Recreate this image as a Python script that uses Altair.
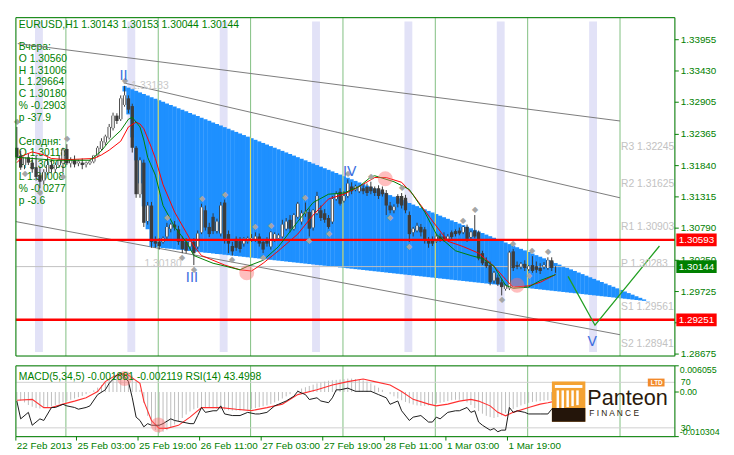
import math
import altair as alt
import pandas as pd

W, H, HS = 670, 344, 72
XDOM = [-0.25, 171.0]
YDOM = [1.28643, 1.34326]
MDOM = [-0.010304, 0.006055]
RDOM = [22.3, 84.5]
GREEN = "#008000"
FONT = "Liberation Sans"

# ---------------- price data (H1 bars) ----------------
opens = [1.3214,1.3201,1.3185,1.3198,1.3189,1.3181,1.3168,1.3159,1.3173,1.3185,
 1.3178,1.3185,1.3188,1.3212,1.3188,1.3193,1.3188,1.3189,1.3186,1.3188,
 1.3191,1.3201,1.3212,1.3223,1.3231,1.3247,1.3268,1.3262,1.3286,1.3297,
 1.3284,1.3214,1.3136,1.3189,1.3091,1.3117,1.3057,1.3056,1.3056,1.3065,
 1.3078,1.3085,1.3077,1.3059,1.3056,1.3048,1.3056,1.3048,1.3072,1.3109,
 1.3081,1.3098,1.3074,1.3070,1.3122,1.3069,1.3049,1.3061,1.3057,1.3053,
 1.3057,1.3059,1.3059,1.3065,1.3056,1.3059,1.3048,1.3059,1.3062,1.3065,
 1.3078,1.3093,1.3078,1.3098,1.3090,1.3104,1.3106,1.3080,1.3104,1.3109,
 1.3104,1.3096,1.3090,1.3128,1.3140,1.3125,1.3133,1.3149,1.3144,1.3141,
 1.3146,1.3148,1.3149,1.3146,1.3146,1.3144,1.3138,1.3117,1.3109,1.3133,
 1.3133,1.3130,1.3101,1.3072,1.3075,1.3081,1.3077,1.3059,1.3059,1.3057,
 1.3065,1.3065,1.3061,1.3072,1.3074,1.3075,1.3072,1.3081,1.3064,1.3075,
 1.3072,1.3037,1.3023,1.3017,1.2991,1.2996,1.2988,1.2977,1.2978,1.3040,
 1.3017,1.3014,1.3019,1.3010,1.3017,1.3015,1.3012,1.3014,1.3012,1.3025,
 1.3014]
highs = [1.3249,1.3209,1.3194,1.3204,1.3198,1.3201,1.3181,1.3178,1.3198,1.3194,
 1.3189,1.3201,1.3214,1.3220,1.3198,1.3201,1.3194,1.3196,1.3191,1.3194,
 1.3202,1.3217,1.3230,1.3236,1.3254,1.3273,1.3272,1.3302,1.3318,1.3302,
 1.3288,1.3217,1.3198,1.3194,1.3123,1.3123,1.3065,1.3062,1.3065,1.3088,
 1.3088,1.3091,1.3083,1.3065,1.3062,1.3059,1.3062,1.3075,1.3120,1.3117,
 1.3088,1.3104,1.3095,1.3123,1.3127,1.3075,1.3056,1.3065,1.3064,1.3064,
 1.3065,1.3069,1.3072,1.3070,1.3061,1.3064,1.3074,1.3072,1.3070,1.3093,
 1.3096,1.3101,1.3104,1.3123,1.3109,1.3122,1.3112,1.3111,1.3140,1.3117,
 1.3111,1.3101,1.3133,1.3141,1.3146,1.3141,1.3161,1.3156,1.3152,1.3151,
 1.3151,1.3154,1.3157,1.3149,1.3151,1.3149,1.3143,1.3123,1.3119,1.3136,
 1.3138,1.3135,1.3107,1.3081,1.3088,1.3086,1.3081,1.3064,1.3065,1.3069,
 1.3070,1.3072,1.3069,1.3075,1.3077,1.3080,1.3083,1.3085,1.3075,1.3101,
 1.3075,1.3041,1.3030,1.3023,1.3007,1.3001,1.2993,1.2985,1.3041,1.3044,
 1.3023,1.3022,1.3025,1.3017,1.3032,1.3023,1.3020,1.3022,1.3030,1.3030,
 1.3015]
lows = [1.3194,1.3177,1.3178,1.3185,1.3172,1.3159,1.3146,1.3152,1.3168,1.3172,
 1.3172,1.3181,1.3173,1.3185,1.3181,1.3181,1.3183,1.3178,1.3181,1.3185,
 1.3188,1.3198,1.3209,1.3218,1.3228,1.3243,1.3254,1.3259,1.3283,1.3272,
 1.3206,1.3130,1.3130,1.3081,1.3085,1.3046,1.3046,1.3043,1.3053,1.3059,
 1.3072,1.3075,1.3051,1.3037,1.3037,1.3043,1.3017,1.3044,1.3069,1.3075,
 1.3064,1.3069,1.3070,1.3065,1.3053,1.3037,1.3033,1.3041,1.3038,1.3048,
 1.3053,1.3056,1.3056,1.3048,1.3037,1.3048,1.3043,1.3056,1.3059,1.3062,
 1.3075,1.3072,1.3075,1.3095,1.3085,1.3098,1.3065,1.3075,1.3101,1.3091,
 1.3088,1.3078,1.3086,1.3125,1.3117,1.3122,1.3130,1.3136,1.3141,1.3138,
 1.3136,1.3133,1.3136,1.3133,1.3128,1.3132,1.3101,1.3104,1.3104,1.3114,
 1.3112,1.3104,1.3056,1.3065,1.3072,1.3065,1.3053,1.3046,1.3049,1.3054,
 1.3056,1.3056,1.3057,1.3061,1.3065,1.3067,1.3069,1.3056,1.3061,1.3062,
 1.3025,1.3017,1.3012,1.2983,1.2986,1.2982,1.2966,1.2974,1.2975,1.3007,
 1.3010,1.3010,1.3007,1.3007,1.3004,1.3004,1.3002,1.3010,1.3009,1.3007,
 1.3004]
closes = [1.3198,1.3181,1.3198,1.3189,1.3178,1.3165,1.3157,1.3173,1.3185,1.3178,
 1.3185,1.3194,1.3210,1.3188,1.3194,1.3186,1.3191,1.3185,1.3189,1.3191,
 1.3201,1.3214,1.3225,1.3233,1.3249,1.3268,1.3259,1.3297,1.3302,1.3278,
 1.3214,1.3136,1.3193,1.3088,1.3117,1.3056,1.3053,1.3049,1.3062,1.3081,
 1.3085,1.3080,1.3056,1.3044,1.3041,1.3056,1.3037,1.3070,1.3114,1.3080,
 1.3069,1.3074,1.3090,1.3117,1.3061,1.3053,1.3040,1.3046,1.3044,1.3061,
 1.3062,1.3062,1.3065,1.3053,1.3043,1.3053,1.3072,1.3069,1.3067,1.3085,
 1.3090,1.3078,1.3101,1.3120,1.3104,1.3107,1.3078,1.3109,1.3133,1.3096,
 1.3093,1.3081,1.3128,1.3136,1.3120,1.3133,1.3154,1.3141,1.3149,1.3149,
 1.3141,1.3138,1.3141,1.3138,1.3133,1.3136,1.3117,1.3109,1.3115,1.3120,
 1.3117,1.3109,1.3069,1.3078,1.3083,1.3072,1.3059,1.3053,1.3053,1.3065,
 1.3059,1.3061,1.3065,1.3064,1.3069,1.3070,1.3081,1.3061,1.3072,1.3065,
 1.3028,1.3020,1.3015,1.2988,1.3004,1.2985,1.2980,1.2983,1.3038,1.3012,
 1.3014,1.3019,1.3012,1.3015,1.3007,1.3009,1.3007,1.3017,1.3025,1.3012,
 1.3014]

red_ma_bars = [0,2,4,7,9,13,20,22,24,27,29,31,32,33,35,36,38,41,44,46,48,54,58,61,64,68,73,77,81,85,
               89,93,96,100,103,108,112,116,120,124,127,129,133,136,140]
red_ma = [1.3189,1.3202,1.3207,1.3202,1.3196,1.3194,1.3196,1.3202,1.3210,1.3225,
          1.3249,1.3257,1.3254,1.3246,1.3214,1.3196,1.3152,1.3106,1.3072,1.3049,
          1.3033,1.3017,1.3009,1.3007,1.3020,1.3041,1.3069,1.3101,1.3128,1.3136,
          1.3149,1.3164,1.3164,1.3156,1.3135,1.3091,1.3057,1.3048,1.3037,1.3015,
          1.2993,1.2980,1.2982,1.2988,1.3001]
green_ma_bars = [0,10,19,20,22,24,27,29,30,32,33,34,36,38,41,44,46,51,53,58,60,64,68,73,77,81,85,89,92,93,
                 98,102,106,109,114,118,121,124,127,129,133,136,140]
green_ma = [1.3198,1.3193,1.3193,1.3198,1.3209,1.3225,1.3243,1.3262,1.3265,1.3249,
            1.3227,1.3198,1.3168,1.3117,1.3081,1.3056,1.3033,1.3020,1.3017,1.3009,
            1.3015,1.3025,1.3048,1.3090,1.3122,1.3136,1.3138,1.3149,1.3165,1.3167,
            1.3157,1.3144,1.3106,1.3069,1.3041,1.3033,1.3028,1.3015,1.2983,1.2978,
            1.2980,1.2991,1.3001]

fractal_up = [0,13,28,39,48,54,62,66,75,86,92,100,116,119,129,134,138]
fractal_down = [2,6,12,43,46,56,64,76,81,97,102,126,133]

# ---------------- indicator data ----------------
macd = [-0.0018,-0.0020,-0.0024,-0.0030,-0.0034,-0.0037,-0.0038,-0.0037,-0.0035,-0.0033,
 -0.0030,-0.0027,-0.0024,-0.0021,-0.0018,-0.0015,-0.0012,-0.0009,-0.0005,-0.0001,
 0.0004,0.0010,0.0016,0.0022,0.0028,0.0034,0.0040,0.0044,0.0046,0.0044,
 0.0038,0.0025,0.0005,-0.0025,-0.0055,-0.0075,-0.0088,-0.0095,-0.0092,-0.0088,
 -0.0082,-0.0075,-0.0068,-0.0060,-0.0052,-0.0045,-0.0040,-0.0037,-0.0036,-0.0036,
 -0.0037,-0.0038,-0.0039,-0.0040,-0.0041,-0.0042,-0.0043,-0.0043,-0.0043,-0.0042,
 -0.0041,-0.0039,-0.0037,-0.0035,-0.0033,-0.0031,-0.0028,-0.0024,-0.0020,-0.0015,
 -0.0010,-0.0005,0.0000,0.0004,0.0008,0.0011,0.0014,0.0017,0.0020,0.0022,
 0.0024,0.0026,0.0027,0.0028,0.0029,0.0030,0.0031,0.0031,0.0030,0.0029,
 0.0027,0.0024,0.0020,0.0015,0.0010,0.0005,0.0000,-0.0005,-0.0010,-0.0015,
 -0.0019,-0.0023,-0.0026,-0.0029,-0.0031,-0.0032,-0.0032,-0.0031,-0.0029,-0.0027,
 -0.0025,-0.0023,-0.0021,-0.0019,-0.0018,-0.0018,-0.0020,-0.0024,-0.0030,-0.0037,
 -0.0044,-0.0050,-0.0055,-0.0058,-0.0060,-0.0058,-0.0054,-0.0049,-0.0044,-0.0039,
 -0.0035,-0.0031,-0.0028,-0.0025,-0.0023,-0.0022,-0.0021,-0.0020,-0.0019,-0.0019,
 -0.0019]
signal_bars = [0,4,7,9,12,15,18,21,23,25,27,29,32,33,35,37,39,42,45,48,53,57,61,65,69,73,78,82,86,90,
               93,97,100,103,107,109,112,115,118,120,123,125,127,129,133,136,138,140]
signal = [-0.0019,-0.0017,-0.0036,-0.0036,-0.0028,-0.0021,-0.0013,0.0001,0.0024,0.0035,
          0.0043,0.0039,0.0020,-0.0021,-0.0066,-0.0084,-0.0084,-0.0077,-0.0058,-0.0036,
          -0.0036,-0.0040,-0.0043,-0.0036,-0.0028,-0.0006,0.0005,0.0016,0.0024,0.0030,
          0.0024,0.0016,0.0001,-0.0017,-0.0028,-0.0032,-0.0028,-0.0021,-0.0017,-0.0021,
          -0.0032,-0.0047,-0.0055,-0.0047,-0.0036,-0.0028,-0.0025,-0.0021]
rsi_bars = [0,1,3,4,6,7,9,10,12,13,15,16,18,19,21,23,24,26,27,28,29,30,31,32,33,34,35,37,38,40,
            41,43,45,46,47,48,49,51,52,53,54,56,58,60,62,63,65,67,68,70,72,73,75,76,78,79,81,82,83,84,
            86,88,90,92,94,96,97,99,100,102,103,105,107,108,109,110,112,114,115,117,118,119,120,121,
            123,124,125,126,127,128,129,130,132,133,136,138,139,140]
rsi = [53.6,37.9,43.6,32.3,37.9,36.5,47.9,47.9,50.7,49.3,47.9,46.4,47.9,49.3,59.2,63.4,69.1,76.2,77.7,74.8,
       70.6,56.4,39.4,36.5,30.9,33.7,32.3,32.3,33.7,37.9,36.5,35.1,33.7,33.7,40.8,47.9,43.6,45.0,45.0,49.3,
       42.2,40.8,40.8,43.6,42.2,42.2,43.6,49.3,50.7,53.6,57.8,62.1,59.2,54.9,56.4,53.6,52.1,56.4,63.4,63.4,
       64.9,62.1,62.1,62.1,59.2,56.4,50.7,53.6,45.0,36.5,39.4,40.8,35.1,35.1,39.4,37.9,43.6,45.0,45.0,47.9,
       43.6,45.0,35.1,32.3,28.0,29.4,26.6,28.0,28.0,47.9,43.6,45.0,43.6,42.2,42.2,42.2,46.4,43.5]
rsi_levels = [70, 30]

# ---------------- drawing objects ----------------
band_centers = [5.75, 29.75, 53.75, 77.75, 101.75, 125.75, 149.75]
grid_bars = [12.75, 36.75, 60.75, 84.75, 108.75, 132.75, 156.75]
tri_bars = [27.75, 34.75, 164.25]
tri_prices = [1.33183, 1.3048, 1.2956]
trend_ids = ["a", "a", "b", "b", "c", "c"]
trend_bars = [0.25, 156.75, 27.75, 156.75, -0.25, 156.75]
trend_prices = [1.3389, 1.3259, 1.3323, 1.3130, 1.3090, 1.2900]
red_levels = [1.30593, 1.29251]
bid_price = 1.30144
pivot_names = ["R3", "R2", "R1", "P", "S1", "S2"]
pivot_values = [1.32245, 1.31625, 1.30903, 1.30283, 1.29561, 1.28941]
wave_labels = ["II", "III", "IV", "V"]
wave_bars = [27.75, 45.5, 86.5, 149.5]
wave_prices = [1.3334, 1.2995, 1.3173, 1.2887]
proj_bars = [143.25, 150.25, 167.0]
proj_prices = [1.2998, 1.2916, 1.3049]
circle_bars = [59.75, 95.75, 130.0]
circle_prices = [1.3004, 1.3162, 1.2983]
sub_circle_bars = [28.0, 36.75]
sub_circle_rsi = [73.4, 32.6]
box_texts = ["1.33183", "1.30180"]
box_bars = [34.6, 38.0]
box_prices = [1.33183, 1.30180]

y_ticks = [1.33955, 1.33430, 1.32905, 1.32365, 1.31840, 1.31315, 1.30790, 1.30250, 1.29725, 1.29200, 1.28675]
time_tick_bars = [-0.25, 15.5, 31.5, 47.5, 63.5, 79.5, 95.5, 111.5, 127.5]
time_tick_labels = ["22 Feb 2013", "25 Feb 03:00", "25 Feb 19:00", "26 Feb 11:00", "27 Feb 03:00",
                    "27 Feb 19:00", "28 Feb 11:00", "1 Mar 03:00", "1 Mar 19:00"]
macd_ticks = [0.006055, 0.0, -0.010304]
macd_tick_labels = ["0.006055", "0.00", "-0.010304"]
tag_prices = [1.30593, 1.29251, 1.30144]
tag_texts = ["1.30593", "1.29251", "1.30144"]
tag_colors = ["#ff0000", "#ff0000", "#008000"]

header = "EURUSD,H1  1.30143 1.30153 1.30044 1.30144"
info_lines = ["Вчера:", "O 1.30560", "H 1.31006", "L 1.29664", "C 1.30180", "% -0.2903", "p -37.9",
              "Сегодня:", "O 1.30118", "H 1.30203", "L 1.30008", "% -0.0277", "p -3.6"]
info_rows = [0, 1, 2, 3, 4, 5, 6, 8, 9, 10, 11, 12, 13]
sub_title = "MACD(5,34,5) -0.001881 -0.002119  RSI(14) 43.4998"

# ---------------- helpers ----------------
xs = alt.Scale(domain=XDOM, nice=False)
ys = alt.Scale(domain=YDOM, nice=False)
ms = alt.Scale(domain=MDOM, nice=False)


def X(field):
    return alt.X(field, type="quantitative", scale=xs, axis=None)


def Y(field):
    return alt.Y(field, type="quantitative", scale=ys, axis=None)


def M(field):
    return alt.Y(field, type="quantitative", scale=ms, axis=None)


def txt(s, x, y, size=10.5, color=GREEN, align="left", baseline="middle", weight="normal"):
    return alt.Chart(pd.DataFrame({"t": [s]})).mark_text(
        align=align, baseline=baseline, font=FONT, fontSize=size, color=color, fontWeight=weight
    ).encode(text="t:N", x=alt.value(x), y=alt.value(y))


def frame(w, h):
    out = []
    for x0, x1, y0, y1 in [(0, w, 0, 0), (0, w, h, h), (0, 0, 0, h), (w, w, 0, h)]:
        out.append(alt.Chart(pd.DataFrame({"k": [0]})).mark_rule(color=GREEN, strokeWidth=1).encode(
            x=alt.value(x0), x2=alt.value(x1), y=alt.value(y0), y2=alt.value(y1)))
    return out


candles = pd.DataFrame({"bar": list(range(len(opens))), "o": opens, "h": highs, "l": lows, "c": closes})
bulls = candles[candles["c"] > candles["o"]]

a_b, b_b, c_b = tri_bars
a_p, b_p, c_p = tri_prices


def upper_edge(g):
    return a_p + (g - a_b) / (c_b - a_b) * (c_p - a_p)


def lower_edge(g):
    if g <= b_b:
        return a_p + (g - a_b) / (b_b - a_b) * (b_p - a_p)
    return b_p + (g - b_b) / (c_b - b_b) * (c_p - b_p)


tri_cols = list(range(math.ceil(a_b), math.floor(c_b) + 1))
df_tri = pd.DataFrame({"bar": tri_cols, "t": [upper_edge(g) for g in tri_cols],
                       "b": [lower_edge(g) for g in tri_cols]})
inside = [g for g in grid_bars if a_b < g < c_b]
df_yel = pd.DataFrame({"g": inside, "t": [upper_edge(g) for g in inside], "b": [lower_edge(g) for g in inside]})

# ---------------- main window ----------------
L = []
L.append(alt.Chart(pd.DataFrame({"g": band_centers})).mark_rule(color="#e2e2f7", strokeWidth=8).encode(
    x=X("g:Q"), y=alt.value(4), y2=alt.value(H - 4)))
L.append(alt.Chart(pd.DataFrame({"g": grid_bars})).mark_rule(color="#7fbf7f", strokeWidth=1).encode(
    x=X("g:Q"), y=alt.value(0), y2=alt.value(H)))
for row, line in zip(info_rows, info_lines):
    L.append(txt(line, 3, 30 + 12 * row))
L.append(txt(header, 3, 8))
L.append(alt.Chart(pd.DataFrame({"id": trend_ids, "bar": trend_bars, "p": trend_prices})).mark_line(
    color="#7a7a7a", strokeWidth=1).encode(x=X("bar:Q"), y=Y("p:Q"), detail="id:N"))
L.append(alt.Chart(df_tri).mark_rule(color="#1e90ff", strokeWidth=4.2).encode(x=X("bar:Q"), y=Y("t:Q"), y2="b:Q"))
L.append(alt.Chart(df_yel).mark_rule(color="#f0e850", strokeWidth=1).encode(x=X("g:Q"), y=Y("t:Q"), y2="b:Q"))
L.append(alt.Chart(pd.DataFrame({"p": [bid_price]})).mark_rule(color="#c0c0c0").encode(
    x=alt.value(0), x2=alt.value(W), y=Y("p:Q")))
L.append(alt.Chart(candles).mark_rule(color="#383838").encode(x=X("bar:Q"), y=Y("l:Q"), y2="h:Q"))
L.append(alt.Chart(candles).mark_rule(color="#3c3c3c", strokeWidth=3.4).encode(x=X("bar:Q"), y=Y("o:Q"), y2="c:Q"))
L.append(alt.Chart(bulls).mark_rule(color="#ffffff", strokeWidth=1.6).encode(x=X("bar:Q"), y=Y("o:Q"), y2="c:Q"))
L.append(alt.Chart(pd.DataFrame({"p": red_levels})).mark_rule(color="#ff0000", strokeWidth=2.5).encode(
    x=alt.value(0), x2=alt.value(W), y=Y("p:Q")))
L.append(alt.Chart(pd.DataFrame({"bar": red_ma_bars, "p": red_ma})).mark_line(
    color="#ff0000", strokeWidth=1).encode(x=X("bar:Q"), y=Y("p:Q")))
L.append(alt.Chart(pd.DataFrame({"bar": green_ma_bars, "p": green_ma})).mark_line(
    color="#008000", strokeWidth=1).encode(x=X("bar:Q"), y=Y("p:Q")))
L.append(alt.Chart(pd.DataFrame({"bar": fractal_up, "p": [highs[i] for i in fractal_up],
                                 "t": ["◆"] * len(fractal_up)})).mark_text(
    fontSize=8, color="#a5a5a5", dy=-5, baseline="middle").encode(x=X("bar:Q"), y=Y("p:Q"), text="t:N"))
L.append(alt.Chart(pd.DataFrame({"bar": fractal_down, "p": [lows[i] for i in fractal_down],
                                 "t": ["◆"] * len(fractal_down)})).mark_text(
    fontSize=8, color="#a5a5a5", dy=5, baseline="middle").encode(x=X("bar:Q"), y=Y("p:Q"), text="t:N"))
L.append(alt.Chart(pd.DataFrame({"bar": proj_bars, "p": proj_prices})).mark_line(
    color="#22a022", strokeWidth=1.3).encode(x=X("bar:Q"), y=Y("p:Q")))
L.append(alt.Chart(pd.DataFrame({"bar": circle_bars, "p": circle_prices})).mark_circle(
    size=230, color="#ff6f6f", opacity=0.45).encode(x=X("bar:Q"), y=Y("p:Q")))
L.append(alt.Chart(pd.DataFrame({"t": wave_labels, "bar": wave_bars, "p": wave_prices})).mark_text(
    font="DejaVu Sans", fontSize=14, color="#3d6ee0", baseline="middle").encode(
    x=X("bar:Q"), y=Y("p:Q"), text="t:N"))
L.append(alt.Chart(pd.DataFrame({"t": [f"{n} {v:.5f}" for n, v in zip(pivot_names, pivot_values)],
                                 "p": pivot_values, "bar": [grid_bars[-1]] * len(pivot_values)})).mark_text(
    align="left", baseline="top", dx=1, dy=1, font=FONT, fontSize=10.5, color="#c2c2c2").encode(
    x=X("bar:Q"), y=Y("p:Q"), text="t:N"))
L.append(alt.Chart(pd.DataFrame({"t": box_texts, "bar": box_bars, "p": box_prices})).mark_text(
    font=FONT, fontSize=10.5, color="#c8c8c8", baseline="middle").encode(x=X("bar:Q"), y=Y("p:Q"), text="t:N"))
# price scale (ticks + labels) on the right
L.append(alt.Chart(pd.DataFrame({"v": y_ticks})).mark_rule(color=GREEN, strokeWidth=1).encode(
    x=alt.value(W), x2=alt.value(W + 4), y=Y("v:Q")))
L.append(alt.Chart(pd.DataFrame({"v": y_ticks, "t": [f"{v:.5f}" for v in y_ticks]})).mark_text(
    align="left", baseline="middle", font=FONT, fontSize=10, color=GREEN).encode(
    x=alt.value(W + 6), y=Y("v:Q"), text="t:N"))
L.append(alt.Chart(pd.DataFrame({"p": tag_prices, "c": tag_colors})).mark_rule(
    strokeWidth=13, strokeCap="square").encode(
    x=alt.value(W + 8), x2=alt.value(W + 36), y=Y("p:Q"), color=alt.Color("c:N", scale=None)))
L.append(alt.Chart(pd.DataFrame({"p": tag_prices, "t": tag_texts})).mark_text(
    font=FONT, fontSize=10, color="#ffffff", baseline="middle").encode(
    x=alt.value(W + 22), y=Y("p:Q"), text="t:N"))
L.extend(frame(W, H))

main = alt.layer(*L).properties(width=W, height=H)

# ---------------- sub window (MACD + RSI) ----------------
rsi_to_macd = f"{MDOM[0]} + (datum.r - {RDOM[0]}) / ({RDOM[1] - RDOM[0]}) * ({MDOM[1] - MDOM[0]})"

S = []
S.append(alt.Chart(pd.DataFrame({"g": grid_bars})).mark_rule(color="#7fbf7f", strokeWidth=1).encode(
    x=X("g:Q"), y=alt.value(0), y2=alt.value(HS)))
S.append(alt.Chart(pd.DataFrame({"r": rsi_levels})).transform_calculate(m=rsi_to_macd).mark_rule(
    color="#d0d0d0").encode(x=alt.value(0), x2=alt.value(W), y=M("m:Q")))
S.append(alt.Chart(pd.DataFrame({"bar": list(range(len(macd))), "m": macd, "zero": [0.0] * len(macd)})).mark_rule(
    color="#bdbdbd").encode(x=X("bar:Q"), y=M("m:Q"), y2="zero:Q"))
S.append(alt.Chart(pd.DataFrame({"bar": signal_bars, "m": signal})).mark_line(
    color="#ff3030", strokeWidth=1.1).encode(x=X("bar:Q"), y=M("m:Q")))
S.append(alt.Chart(pd.DataFrame({"bar": rsi_bars, "r": rsi})).transform_calculate(m=rsi_to_macd).mark_line(
    color="#1a1a1a", strokeWidth=1).encode(x=X("bar:Q"), y=M("m:Q")))
S.append(alt.Chart(pd.DataFrame({"bar": sub_circle_bars, "r": sub_circle_rsi})).transform_calculate(
    m=rsi_to_macd).mark_circle(size=230, color="#ff6f6f", opacity=0.45).encode(x=X("bar:Q"), y=M("m:Q")))
S.append(txt(sub_title, 3, 11))

logo_bars = [  # x, x2, y, y2, width, colour
    (562, 562, 16, 57, 34, "#f4a232"),
    (548, 576, 21, 21, 3, "#ffffff"),
    (551, 551, 25, 44, 2.5, "#ffffff"),
    (556, 556, 25, 43, 2.5, "#ffffff"),
    (561, 561, 25, 42, 2.5, "#ffffff"),
    (566, 566, 25, 41, 2.5, "#ffffff"),
    (571, 571, 25, 40, 2.5, "#ffffff"),
    (562, 562, 43, 57, 34, "#24150a"),
    (651, 651, 13, 21, 17, "#f28a2c"),
]
for x0, x1, y0, y1, sw, col in logo_bars:
    S.append(alt.Chart(pd.DataFrame({"k": [0]})).mark_rule(color=col, strokeWidth=sw).encode(
        x=alt.value(x0), x2=alt.value(x1), y=alt.value(y0), y2=alt.value(y1)))
S.append(txt("Panteon", 581, 40, size=22, color="#2b1a0c", baseline="alphabetic"))
S.append(txt("F   I   N   A   N   C   E", 583, 48, size=8.5, color="#2b1a0c"))
S.append(txt("LTD", 651.5, 17.5, size=6.5, color="#ffffff", align="center", weight="bold"))
S.extend(frame(W, HS))

# right-hand scale of the sub window
S.append(alt.Chart(pd.DataFrame({"m": macd_ticks})).mark_rule(color=GREEN, strokeWidth=1).encode(
    x=alt.value(W), x2=alt.value(W + 4), y=M("m:Q")))
S.append(alt.Chart(pd.DataFrame({"m": [macd_ticks[0]], "t": [macd_tick_labels[0]]})).mark_text(
    align="left", baseline="top", font=FONT, fontSize=9, color=GREEN).encode(
    x=alt.value(W + 5), y=M("m:Q"), text="t:N"))
S.append(alt.Chart(pd.DataFrame({"m": [macd_ticks[1]], "t": [macd_tick_labels[1]]})).mark_text(
    align="left", baseline="middle", font=FONT, fontSize=9, color=GREEN).encode(
    x=alt.value(W + 5), y=M("m:Q"), text="t:N"))
S.append(alt.Chart(pd.DataFrame({"m": [macd_ticks[2]], "t": [macd_tick_labels[2]]})).mark_text(
    align="left", baseline="bottom", font=FONT, fontSize=9, color=GREEN).encode(
    x=alt.value(W + 5), y=M("m:Q"), text="t:N"))
S.append(alt.Chart(pd.DataFrame({"r": rsi_levels, "t": ["70", "30"]})).transform_calculate(m=rsi_to_macd).mark_text(
    align="left", baseline="middle", font=FONT, fontSize=9, color=GREEN).encode(
    x=alt.value(W + 6), y=M("m:Q"), text="t:N"))

# time scale under the sub window
S.append(alt.Chart(pd.DataFrame({"b": time_tick_bars})).mark_rule(color=GREEN, strokeWidth=1).encode(
    x=X("b:Q"), y=alt.value(HS), y2=alt.value(HS + 4)))
S.append(alt.Chart(pd.DataFrame({"b": time_tick_bars, "t": time_tick_labels})).mark_text(
    align="left", baseline="top", dx=1, font=FONT, fontSize=10, color=GREEN).encode(
    x=X("b:Q"), y=alt.value(HS + 5), text="t:N"))

sub = alt.layer(*S).properties(width=W, height=HS)

chart = alt.vconcat(main, sub, spacing=4)

chart.save("out.html", embed_options={"renderer": "svg", "actions": False})
